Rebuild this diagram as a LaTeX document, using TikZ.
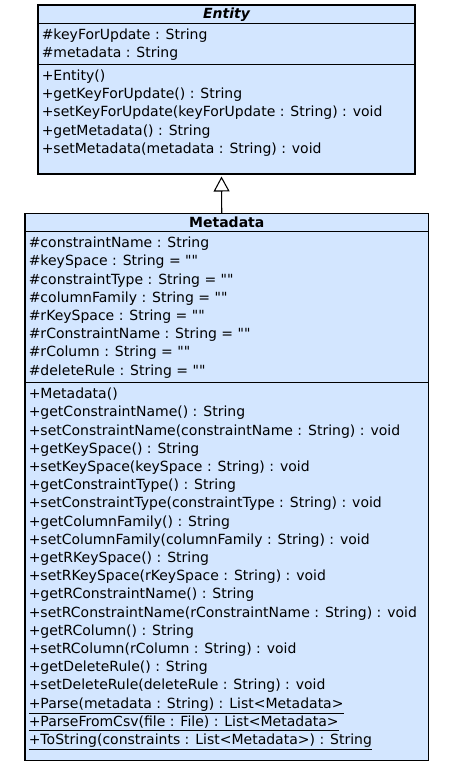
\documentclass[tikz,border=0pt]{standalone}
\usepackage{fontspec}
\setmainfont{DejaVu Sans}
\usetikzlibrary{arrows.meta,positioning}
\definecolor{classfill}{HTML}{D3E6FF}
\newcommand\umlfont{\fontsize{10.5pt}{13.65pt}\selectfont}
\newcommand\nul{\textquotedbl\textquotedbl}
\tikzset{
  compart/.style={draw=black,fill=classfill,line width=0.8pt,inner sep=0pt,outer sep=0pt,
                  minimum width=#1,anchor=north west},
  headbox/.style={compart=#1,minimum height=18.5*0.75pt,font=\umlfont\bfseries},
  members/.style={align=left,inner sep=0pt,anchor=north west,font=\umlfont},
  inherit/.style={-{Triangle[open,length=15*0.75pt,width=16*0.75pt]},line width=0.8pt},
}

\begin{document}
\begin{tikzpicture}[x=0.75pt,y=-0.75pt]
\useasboundingbox (0,0) rectangle (451,769);

% --- Entity ---
\node[headbox=377*0.75pt, font=\umlfont\bfseries\itshape] (ent) at (38,5) {Entity};
\node[compart=377*0.75pt, minimum height=41*0.75pt, below=0pt of ent]      (entattr) {};
\node[compart=377*0.75pt, minimum height=109.5*0.75pt, below=0pt of entattr] (entops)  {};

\node[members] (entattrtxt) at ([xshift=3.5*0.75pt,yshift=-5*0.75pt]entattr.north west)
  {\#keyForUpdate : String\\
   \#metadata : String};
\node[members] (entopstxt) at ([xshift=3.5*0.75pt,yshift=-5*0.75pt]entops.north west)
  {+Entity()\\
   +getKeyForUpdate() : String\\
   +setKeyForUpdate(keyForUpdate : String) : void\\
   +getMetadata() : String\\
   +setMetadata(metadata : String) : void};

% --- Metadata ---
\node[headbox=403.5*0.75pt] (meta) at (25,213.3) {Metadata};
\node[compart=403.5*0.75pt, minimum height=151*0.75pt, below=0pt of meta]     (metaattr) {};
\node[compart=403.5*0.75pt, minimum height=377.3*0.75pt, below=0pt of metaattr] (metaops)  {};

\node[members] (metaattrtxt) at ([xshift=3.5*0.75pt,yshift=-5*0.75pt]metaattr.north west)
  {\#constraintName : String\\
   \#keySpace : String = \nul\\
   \#constraintType : String = \nul\\
   \#columnFamily : String = \nul\\
   \#rKeySpace : String = \nul\\
   \#rConstraintName : String = \nul\\
   \#rColumn : String = \nul\\
   \#deleteRule : String = \nul};
\node[members] (metaopstxt) at ([xshift=3.5*0.75pt,yshift=-5*0.75pt]metaops.north west)
  {+Metadata()\\
   +getConstraintName() : String\\
   +setConstraintName(constraintName : String) : void\\
   +getKeySpace() : String\\
   +setKeySpace(keySpace : String) : void\\
   +getConstraintType() : String\\
   +setConstraintType(constraintType : String) : void\\
   +getColumnFamily() : String\\
   +setColumnFamily(columnFamily : String) : void\\
   +getRKeySpace() : String\\
   +setRKeySpace(rKeySpace : String) : void\\
   +getRConstraintName() : String\\
   +setRConstraintName(rConstraintName : String) : void\\
   +getRColumn() : String\\
   +setRColumn(rColumn : String) : void\\
   +getDeleteRule() : String\\
   +setDeleteRule(deleteRule : String) : void\\
   \underline{+Parse(metadata : String) : List<Metadata>}\\
   \underline{+ParseFromCsv(file : File) : List<Metadata>}\\
   \underline{+ToString(constraints : List<Metadata>) : String}};

% --- generalisation ---
\draw[inherit, shorten >=2.5*0.75pt] ([xshift=-5*0.75pt]meta.north) -- ([xshift=-5*0.75pt]entops.south);

\end{tikzpicture}
\end{document}
